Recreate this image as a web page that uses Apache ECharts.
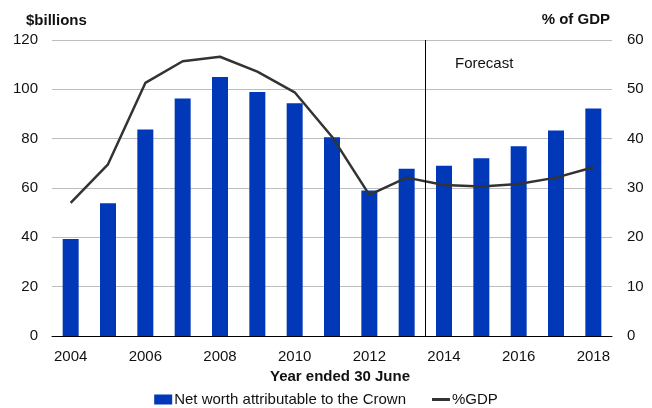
<!DOCTYPE html>
<html>
<head>
<meta charset="utf-8">
<script src="https://cdn.jsdelivr.net/npm/echarts@6/dist/echarts.min.js"></script>
<style>html,body{margin:0;padding:0;background:#fff}#c{width:652px;height:408px}</style>
</head>
<body>
<div id="c"></div>
<script>
var years = ['2004','2005','2006','2007','2008','2009','2010','2011','2012','2013','2014','2015','2016','2017','2018'];
var netWorth = [39.3, 53.8, 83.7, 96.3, 105.0, 98.9, 94.4, 80.6, 59.0, 67.8, 69.0, 72.1, 76.9, 83.3, 92.2];
var pctGDP = [27.0, 34.8, 51.3, 55.7, 56.6, 53.6, 49.4, 40.4, 28.6, 32.1, 30.6, 30.3, 30.8, 32.1, 34.2];
var leftTicks = [0, 20, 40, 60, 80, 100, 120];
var rightTicks = [0, 10, 20, 30, 40, 50, 60];
var forecastStart = 10; // boundary index between 2013 and 2014

var font = 'Liberation Sans, Arial, sans-serif';
var chart = echarts.init(document.getElementById('c'), null, {renderer: 'canvas'});
chart.setOption({
  animation: false,
  textStyle: {fontFamily: font},
  grid: {left: 52, right: 40, top: 40, bottom: 72},
  legend: {
    data: [
      {name: 'Net worth attributable to the Crown', icon: 'rect'},
      {name: '%GDP', icon: 'path://M0,0 H18 V3 H0 Z'}
    ],
    top: 392,
    padding: 0,
    left: 'center',
    itemWidth: 18,
    itemHeight: 10,
    itemGap: 26,
    textStyle: {fontSize: 15, color: '#111', fontFamily: font, padding: [0, 0, 0, -3]}
  },
  graphic: [
    {type: 'text', left: 26, top: 13, style: {text: '$billions', font: 'bold 15px ' + font, fill: '#111'}},
    {type: 'text', right: 42, top: 12, style: {text: '% of GDP', font: 'bold 15px ' + font, fill: '#111', textAlign: 'right'}},
    {type: 'text', left: 455, top: 56, style: {text: 'Forecast', font: '15px ' + font, fill: '#111'}}
  ],
  xAxis: [{
    type: 'category',
    data: years,
    boundaryGap: true,
    name: 'Year ended 30 June',
    nameLocation: 'middle',
    nameGap: 25,
    nameTextStyle: {fontSize: 15, fontWeight: 'bold', color: '#111', padding: [0, 0, 0, 16]},
    axisLine: {lineStyle: {color: '#000', width: 1}},
    axisTick: {interval: 1, length: 5, lineStyle: {color: '#000'}},
    axisLabel: {interval: 1, fontSize: 15, color: '#111', margin: 13}
  }, {
    type: 'value', min: 0, max: years.length, show: false
  }],
  yAxis: [{
    type: 'value', min: leftTicks[0], max: leftTicks[leftTicks.length - 1], interval: 20,
    axisLine: {show: false}, axisTick: {show: false},
    axisLabel: {fontSize: 15, color: '#111', margin: 14},
    splitLine: {lineStyle: {color: '#bdbdbd', width: 1}}
  }, {
    type: 'value', min: rightTicks[0], max: rightTicks[rightTicks.length - 1], interval: 10,
    axisLine: {show: false}, axisTick: {show: false},
    axisLabel: {fontSize: 15, color: '#111', margin: 15},
    splitLine: {show: false}
  }],
  series: [{
    name: 'Net worth attributable to the Crown',
    type: 'bar',
    data: netWorth,
    barWidth: 16,
    itemStyle: {color: '#0038b8'},
    z: 2
  }, {
    name: '%GDP',
    type: 'line',
    yAxisIndex: 1,
    data: pctGDP,
    symbol: 'none',
    lineStyle: {color: '#333333', width: 2.5},
    itemStyle: {color: '#333333'},
    z: 4
  }, {
    name: 'forecastLine',
    type: 'line',
    xAxisIndex: 1,
    yAxisIndex: 0,
    data: [[forecastStart, 0]],
    symbol: 'none',
    silent: true,
    markLine: {
      silent: true,
      symbol: 'none',
      label: {show: false},
      lineStyle: {color: '#000', width: 1, type: 'solid'},
      data: [{xAxis: forecastStart}]
    },
    z: 3
  }]
});
</script>
</body>
</html>
